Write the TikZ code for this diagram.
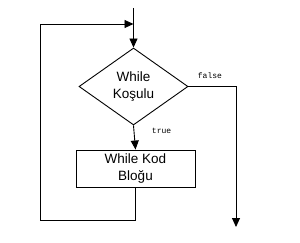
\documentclass[tikz,border=0pt]{standalone}
\usepackage{fontspec}
\setmainfont{Liberation Sans}
\newfontfamily\lblfont{Liberation Mono}
\usetikzlibrary{arrows.meta,shapes.geometric,positioning}
\tikzset{
  flowtext/.style={font=\fontsize{13.5}{16.5}\selectfont, align=center},
  flowlbl/.style={font=\lblfont\fontsize{8}{9}\selectfont, inner sep=1pt}
}
\begin{document}
\begin{tikzpicture}[x=1pt, y=-1pt, line width=.9pt, >={Triangle[length=9pt,width=8pt]}]
\useasboundingbox (0,0) rectangle (300,243);
\node[diamond, draw, inner sep=0pt, minimum width=109pt, minimum height=77pt, flowtext] (cond) at (133.5,86.5) {While\\Koşulu};
\node[rectangle, draw, minimum width=119pt, minimum height=37pt, flowtext] (body) at (135.5,168.5) {While Kod\\Bloğu};
\coordinate (start) at (133.5,8);
\coordinate (looptop) at (133.5,24);
\coordinate (loopbl) at (40,220);
\coordinate (exit) at (236,227);
\draw[->] (start) -- (cond.north);
\draw[->] (cond.south) -- (body.north);
\draw[->] (cond.east) -| (exit);
\draw[->] (body.south) |- (loopbl) |- (looptop);
\node[flowlbl, anchor=south west] (f) at ([xshift=8pt,yshift=6pt]cond.east) {false};
\node[flowlbl, anchor=north west] (t) at ([xshift=17pt,yshift=-1pt]cond.south) {true};
\end{tikzpicture}
\end{document}
